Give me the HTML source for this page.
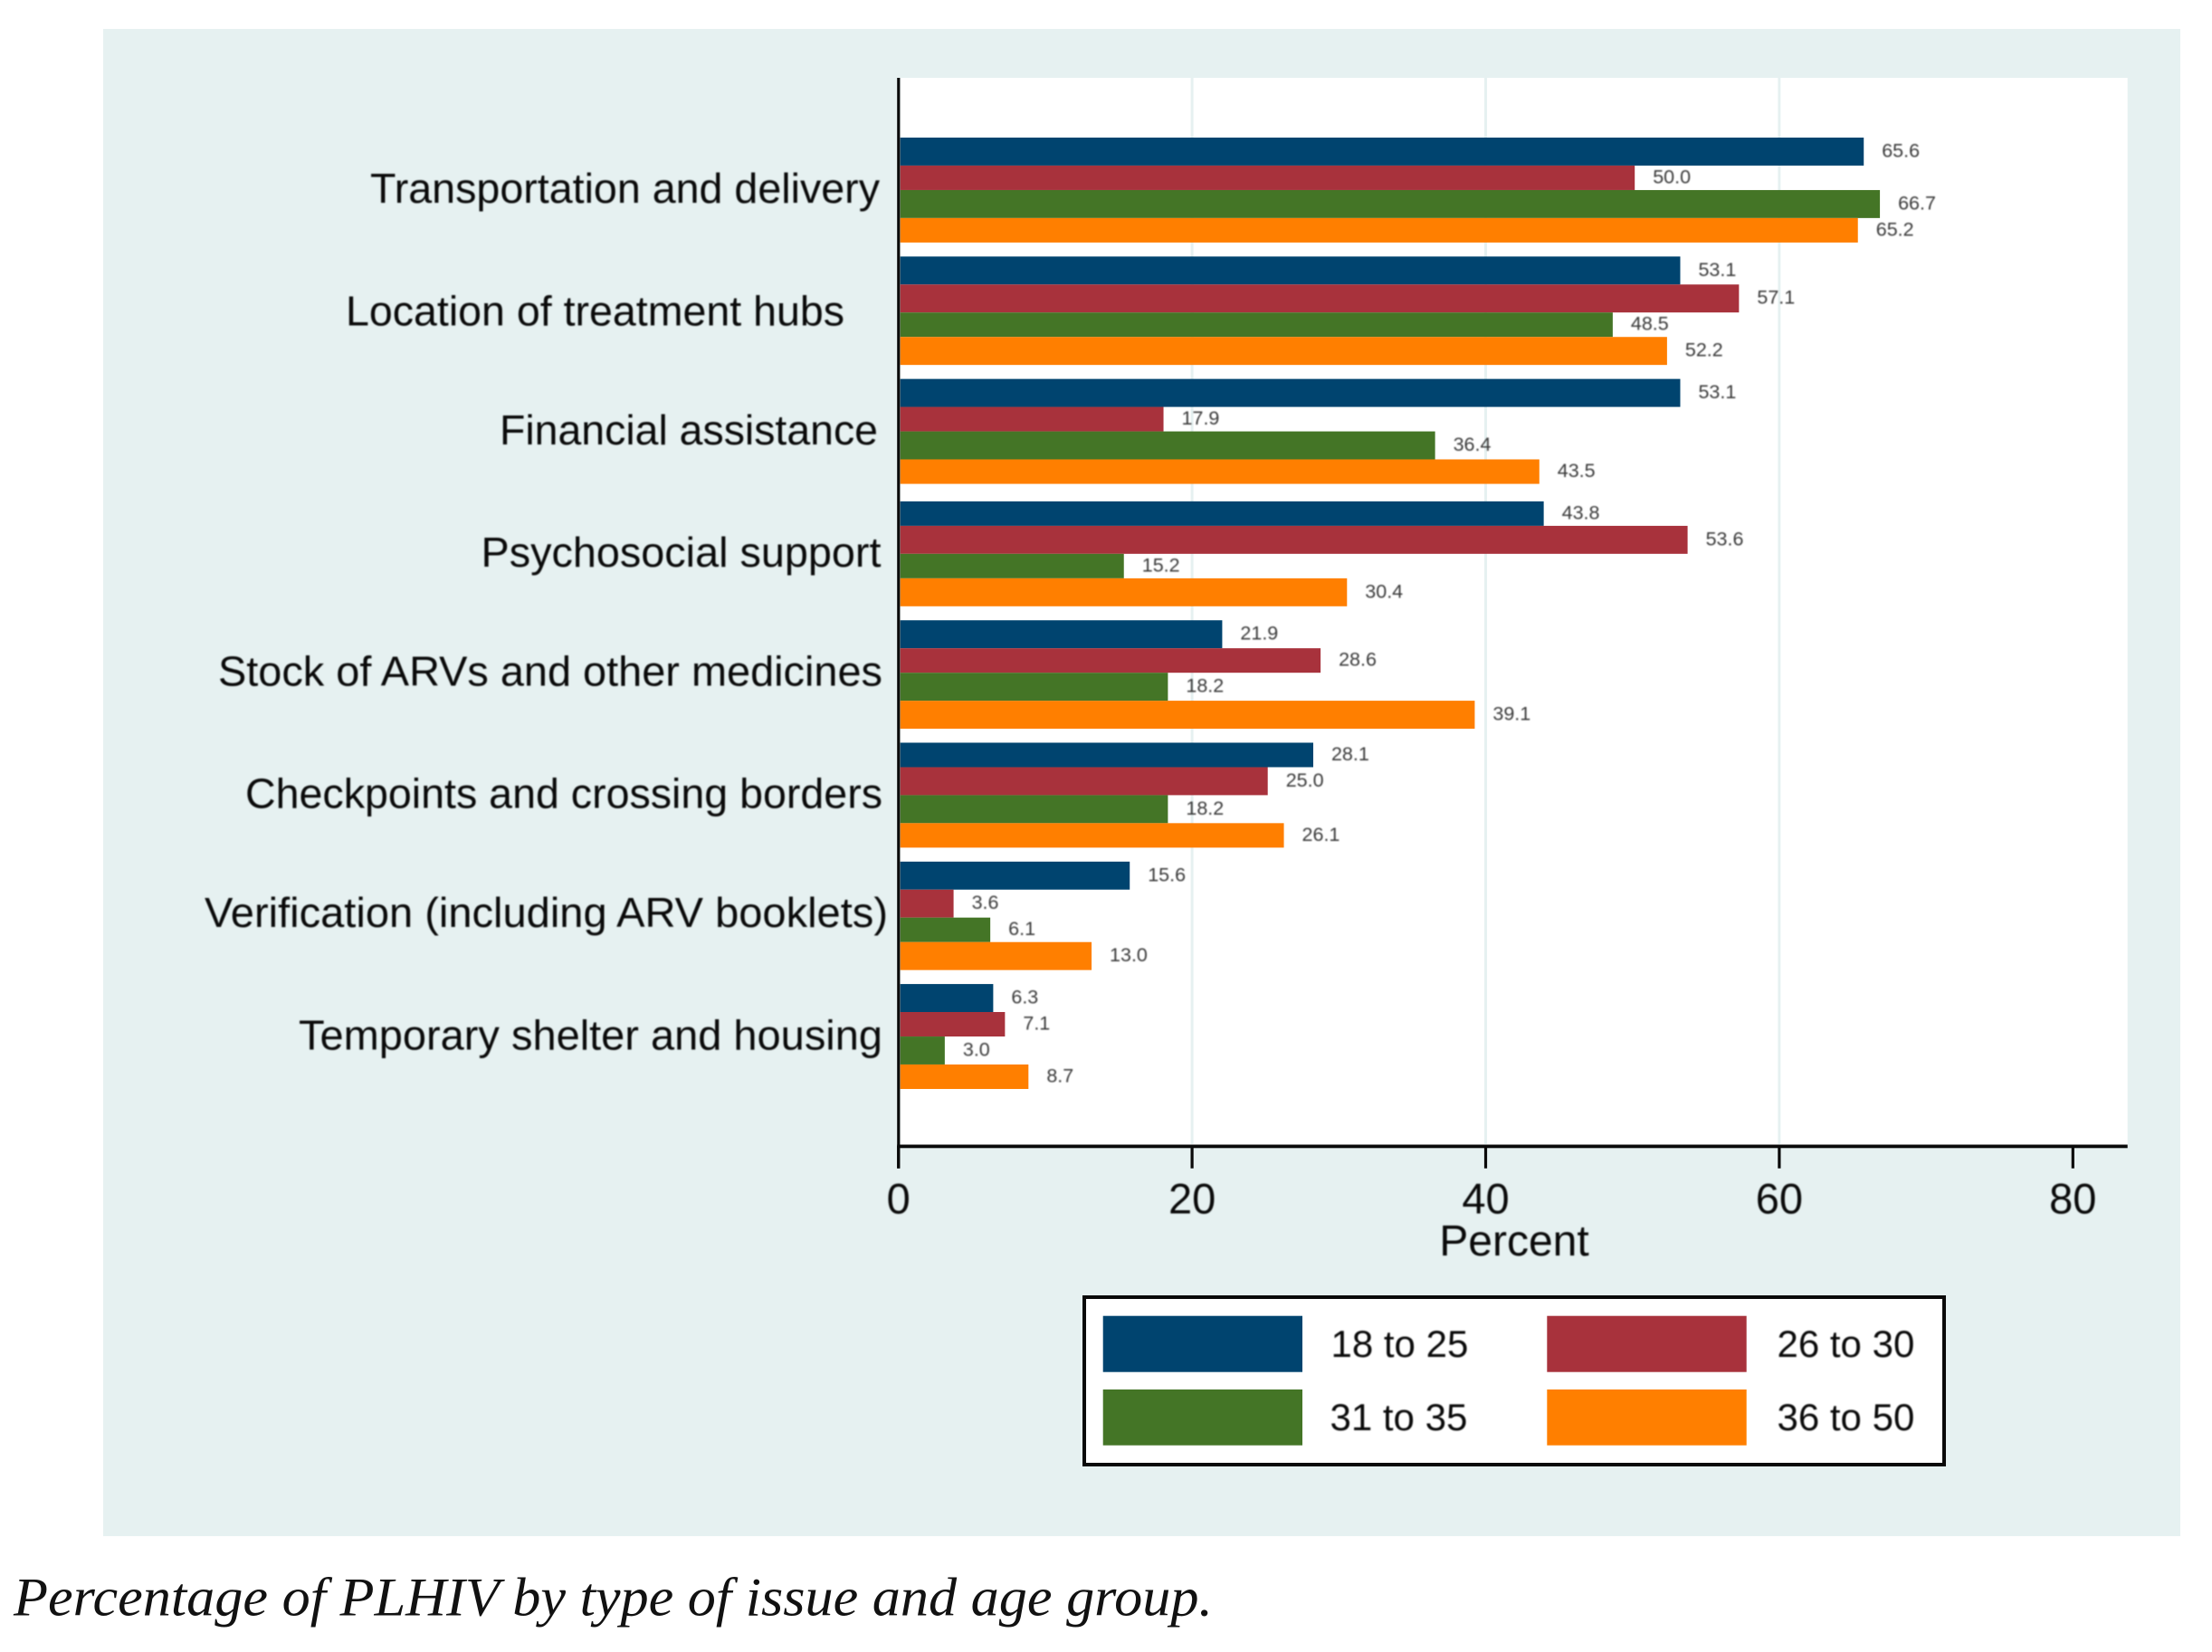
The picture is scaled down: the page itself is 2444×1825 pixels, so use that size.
<!DOCTYPE html>
<html lang="en">
<head>
<meta charset="utf-8">
<title>Percentage of PLHIV by type of issue and age group</title>
<style>
  html, body { margin: 0; padding: 0; background: #ffffff; }
  body { width: 2444px; height: 1825px; overflow: hidden; }
  svg { display: block; }
  .sans { font-family: "Liberation Sans", Arial, sans-serif; fill: #0a0a0a; }
  .soft { filter: blur(0.8px); }
  .softer { filter: blur(0.9px); }
</style>
</head>
<body>
<svg id="chart" xmlns="http://www.w3.org/2000/svg" width="2444" height="1825" viewBox="0 0 2444 1825">
  <rect x="114" y="32" width="2295" height="1665" fill="#e6f1f1"></rect>
  <rect x="994.7" y="86" width="1356" height="1180" fill="#ffffff"></rect>
  <g id="grid"></g>
  <g id="bars"></g>
  <g id="values" class="softer"></g>
  <g id="axes"></g>
  <g id="cats" class="soft"></g>
  <g id="ticks" class="soft"></g>
  <text class="sans soft" x="1673" y="1387" font-size="48" text-anchor="middle">Percent</text>

  <g>
    <rect x="1198" y="1433" width="950" height="185" fill="#ffffff" stroke="#0a0a0a" stroke-width="4"></rect>
    <rect x="1218.7" y="1453.7" width="220.3" height="62" fill="#00446f"></rect>
    <rect x="1709.3" y="1453.7" width="220.4" height="62" fill="#a8323c"></rect>
    <rect x="1218.7" y="1535" width="220.3" height="61.7" fill="#447526"></rect>
    <rect x="1709.3" y="1535" width="220.4" height="61.7" fill="#ff7f00"></rect>
    <text class="sans soft" x="1470.5" y="1499" font-size="42">18 to 25</text>
    <text class="sans soft" x="1963.5" y="1499" font-size="42">26 to 30</text>
    <text class="sans soft" x="1469.5" y="1580" font-size="42">31 to 35</text>
    <text class="sans soft" x="1963.5" y="1580" font-size="42">36 to 50</text>
  </g>

  <text x="15" y="1784.5" font-family="'Liberation Serif', 'Times New Roman', serif" font-style="italic" font-size="60" fill="#111111" textLength="1325" lengthAdjust="spacingAndGlyphs">Percentage of PLHIV by type of issue and age group.</text>
</svg>

<script>
const categories = [
  "Transportation and delivery",
  "Location of treatment hubs",
  "Financial assistance",
  "Psychosocial support",
  "Stock of ARVs and other medicines",
  "Checkpoints and crossing borders",
  "Verification (including ARV booklets)",
  "Temporary shelter and housing"
];
const seriesNames = ["18 to 25", "26 to 30", "31 to 35", "36 to 50"];
const age18to25 = [65.6, 53.1, 53.1, 43.8, 21.9, 28.1, 15.6, 6.3];
const age26to30 = [50.0, 57.1, 17.9, 53.6, 28.6, 25.0, 3.6, 7.1];
const age31to35 = [66.7, 48.5, 36.4, 15.2, 18.2, 18.2, 6.1, 3.0];
const age36to50 = [65.2, 52.2, 43.5, 30.4, 39.1, 26.1, 13.0, 8.7];
const xTickValues = [0, 20, 40, 60, 80];
const gridValues = [20, 40, 60];

(function draw() {
  const NS = "http://www.w3.org/2000/svg";
  const allSeries = [age18to25, age26to30, age31to35, age36to50];
  const colors = ["#00446f", "#a8323c", "#447526", "#ff7f00"];

  // Axis functions. The reference is an upscaled bitmap, so band edges snap to its source pixel grid.
  const xScale = function (v) { return 992.7 + 16.22 * v; };
  const sourcePx = 3.864;
  const yScale = function (cat, slot) { return 152 + sourcePx * Math.round(34.57 * cat + 7.6 * slot - 0.08); };
  const labelBaseline = function (cat) { return 224.2 + sourcePx * Math.round(34.57 * cat); };
  const labelRightEdge = [972, 933, 970, 973.5, 975, 975, 981, 975];
  const labelInkWidth = [563, 551, 418, 442, 734, 704, 755, 645];

  const make = function (tag, attrs, parent) {
    const el = document.createElementNS(NS, tag);
    Object.keys(attrs).forEach(function (k) { el.setAttribute(k, attrs[k]); });
    parent.appendChild(el);
    return el;
  };

  const gridLayer = document.getElementById("grid");
  const barLayer = document.getElementById("bars");
  const valueLayer = document.getElementById("values");
  const axisLayer = document.getElementById("axes");
  const catLayer = document.getElementById("cats");
  const tickLayer = document.getElementById("ticks");

  gridValues.forEach(function (g) {
    const line = make("line", { x1: xScale(g), x2: xScale(g), y1: 86, y2: 1264, stroke: "#e6f1f1", "stroke-width": 3 }, gridLayer);
    
    
  });

  allSeries.forEach(function (values, s) {
    values.forEach(function (v, c) {
      const top = yScale(c, s);
      const bottom = yScale(c, s + 1);
      const end = xScale(v) + 2.5;
      const bar = make("rect", { x: 994.7, y: top, width: end - 994.7, height: bottom - top, fill: colors[s] }, barLayer);
      
      
      bar.setAttribute('aria-label', categories[c] + ", " + seriesNames[s] + ": " + v.toFixed(1));

      const label = make("text", { x: end + 20, y: (top + bottom) / 2 + 6, "font-size": 21.5, "font-family": "'Liberation Sans', Arial, sans-serif", fill: "#3a3a3a" }, valueLayer);
      
      
      label.textContent = v.toFixed(1);
    });
  });

  const yAxis = make("rect", { x: 991.2, y: 86, width: 3.2, height: 1204.7, fill: "#0a0a0a" }, axisLayer);
  
  

  const xAxis = make("rect", { x: 991.2, y: 1264.5, width: 1359.5, height: 3.8, fill: "#0a0a0a" }, axisLayer);
  
  

  xTickValues.forEach(function (t) {
    const tick = make("rect", { x: xScale(t) - 1.6, y: 1266, width: 3.2, height: 24.7, fill: "#0a0a0a" }, axisLayer);
    
    

    const text = make("text", { x: xScale(t), y: 1340.5, "font-size": 47, "text-anchor": "middle", class: "sans" }, tickLayer);
    
    
    text.textContent = String(t);
  });

  categories.forEach(function (name, c) {
    const text = make("text", { x: labelRightEdge[c], y: labelBaseline(c), "font-size": 46.5, "text-anchor": "end", textLength: labelInkWidth[c], lengthAdjust: "spacingAndGlyphs", class: "sans" }, catLayer);
    
    
    text.textContent = name;
  });
})();
</script>
</body>
</html>
